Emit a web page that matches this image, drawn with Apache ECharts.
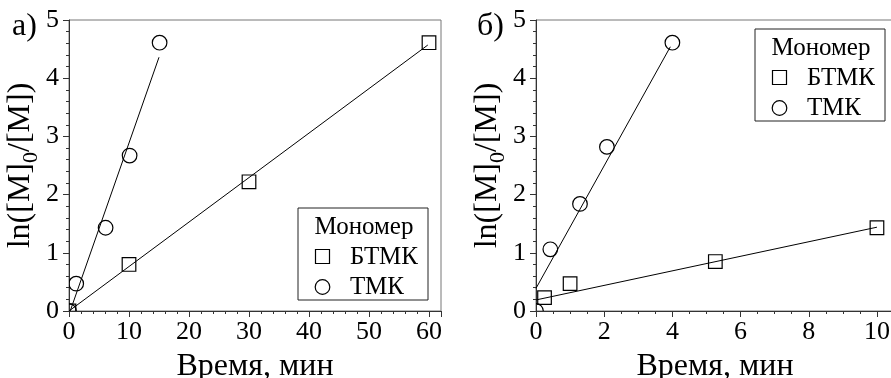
<!DOCTYPE html>
<html>
<head>
<meta charset="utf-8">
<script src="https://cdn.jsdelivr.net/npm/echarts@6/dist/echarts.min.js"></script>
<style>
  html, body { margin: 0; padding: 0; background: #fff; }
  #chart { width: 891px; height: 378px; }
</style>
</head>
<body>
<div id="chart"></div>
<script>
// Panel а): time in minutes, ln([M]0/[M])
const timeA_BTMK = [0, 10, 30, 60];
const lnA_BTMK   = [0, 0.80, 2.22, 4.61];
const timeA_TMK  = [0, 1.2, 6.1, 10.1, 15.1];
const lnA_TMK    = [0, 0.47, 1.43, 2.67, 4.61];
// Linear fits, panel а) (end points)
const fitA_BTMK = [[0, 0], [59.8, 4.57]];
const fitA_TMK  = [[0.2, 0], [15, 4.36]];

// Panel б)
const timeB_BTMK = [0.25, 1.0, 5.26, 10.0];
const lnB_BTMK   = [0.23, 0.47, 0.85, 1.43];
const timeB_TMK  = [0, 0.42, 1.29, 2.08, 4.0];
const lnB_TMK    = [0, 1.06, 1.84, 2.82, 4.61];
const fitB_BTMK = [[0, 0.19], [10, 1.44]];
const fitB_TMK  = [[0, 0.39], [3.94, 4.54]];

// Axis tick values
const xTicksA = [0, 10, 20, 30, 40, 50, 60];
const xTicksB = [0, 2, 4, 6, 8, 10];
const yTicks  = [0, 1, 2, 3, 4, 5];

const seriesNames = ['БТМК', 'ТМК'];
const legendTitle = 'Мономер';
const xTitle = 'Время, мин';
const panelLabels = ['а)', 'б)'];

const FONT = 'Liberation Serif';
const AXIS_COLOR = '#333';

const zip = (xs, ys) => xs.map((x, i) => [x, ys[i]]);

function markerSeries(name, gridIdx, xs, ys, shape) {
  return {
    type: 'custom',
    name: name,
    xAxisIndex: gridIdx,
    yAxisIndex: gridIdx,
    clip: true,
    z: 5,
    data: zip(xs, ys),
    renderItem: function (params, api) {
      const p = api.coord([api.value(0), api.value(1)]);
      const style = { fill: 'none', stroke: '#000', lineWidth: 1.2 };
      if (shape === 'circle') {
        return { type: 'circle', shape: { cx: p[0], cy: p[1], r: 7.3 }, style: style };
      }
      return { type: 'rect', shape: { x: p[0] - 6.8, y: p[1] - 6.8, width: 13.6, height: 13.6 }, style: style };
    }
  };
}

function fitSeries(gridIdx, pts) {
  return {
    type: 'line',
    xAxisIndex: gridIdx,
    yAxisIndex: gridIdx,
    data: pts,
    showSymbol: false,
    symbol: 'none',
    clip: true,
    silent: true,
    lineStyle: { color: '#000', width: 1 },
    z: 4
  };
}

function xAxis(gridIdx, max, interval, minorSplit, ticks) {
  return {
    type: 'value',
    gridIndex: gridIdx,
    min: 0,
    max: max,
    interval: interval,
    name: xTitle,
    nameLocation: 'middle',
    nameGap: 40,
    nameTextStyle: { fontFamily: FONT, fontSize: 32, color: '#000' },
    axisLine: { show: true, lineStyle: { color: AXIS_COLOR, width: 1 } },
    axisTick: { show: true, length: 6, lineStyle: { color: AXIS_COLOR } },
    minorTick: { show: true, splitNumber: minorSplit, length: 3, lineStyle: { color: AXIS_COLOR } },
    splitLine: { show: false },
    axisLabel: {
      fontFamily: FONT, fontSize: 26, color: '#000', margin: 8,
      showMaxLabel: false,
      formatter: v => (ticks.indexOf(v) >= 0 ? String(v) : '')
    }
  };
}

function yAxis(gridIdx) {
  return {
    type: 'value',
    gridIndex: gridIdx,
    min: 0,
    max: 5,
    interval: 1,
    name: 'ln([M]{sub|0}/[M])',
    nameLocation: 'middle',
    nameRotate: 90,
    nameGap: 23,
    nameTextStyle: {
      fontFamily: FONT, fontSize: 32, color: '#000',
      rich: { sub: { fontFamily: FONT, fontSize: 22, color: '#000', verticalAlign: 'bottom', lineHeight: 44 } }
    },
    axisLine: { show: true, lineStyle: { color: AXIS_COLOR, width: 1 } },
    axisTick: { show: true, length: 6, lineStyle: { color: AXIS_COLOR } },
    minorTick: { show: true, splitNumber: 5, length: 3, lineStyle: { color: AXIS_COLOR } },
    splitLine: { show: false },
    axisLabel: {
      fontFamily: FONT, fontSize: 26, color: '#000', margin: 10,
      formatter: v => (yTicks.indexOf(v) >= 0 ? String(v) : '')
    }
  };
}

// Legend box drawn as a graphic group (frame, title, two entries)
function legendBox(x, y) {
  const w = 130, h = 92;
  const font = '25px "' + FONT + '"';
  return {
    type: 'group',
    x: x, y: y,
    children: [
      { type: 'rect', shape: { x: 0, y: 0, width: w, height: h }, style: { fill: '#fff', stroke: '#222', lineWidth: 1 } },
      { type: 'text', x: w / 2 + 1, y: 19, style: { text: legendTitle, font: font, fill: '#000', textAlign: 'center', textVerticalAlign: 'middle' } },
      { type: 'rect', shape: { x: 17.5, y: 41.5, width: 14, height: 14 }, style: { fill: 'none', stroke: '#000', lineWidth: 1.2 } },
      { type: 'text', x: 52, y: 49, style: { text: seriesNames[0], font: font, fill: '#000', textAlign: 'left', textVerticalAlign: 'middle' } },
      { type: 'circle', shape: { cx: 24.5, cy: 79, r: 7.3 }, style: { fill: 'none', stroke: '#000', lineWidth: 1.2 } },
      { type: 'text', x: 52, y: 79, style: { text: seriesNames[1], font: font, fill: '#000', textAlign: 'left', textVerticalAlign: 'middle' } }
    ]
  };
}

const chart = echarts.init(document.getElementById('chart'), null, { renderer: 'canvas' });

const gridBase = { top: 20, height: 291, show: true, borderColor: '#777', borderWidth: 1, containLabel: false, outerBoundsMode: 'none' };

chart.setOption({
  animation: false,
  backgroundColor: '#fff',
  textStyle: { fontFamily: FONT },
  grid: [
    Object.assign({ left: 69, width: 372 }, gridBase),
    Object.assign({ left: 536, width: 358 }, gridBase)
  ],
  xAxis: [
    xAxis(0, 62, 10, 5, xTicksA),
    xAxis(1, 10.5, 2, 4, xTicksB)
  ],
  yAxis: [yAxis(0), yAxis(1)],
  series: [
    fitSeries(0, fitA_BTMK),
    fitSeries(0, fitA_TMK),
    markerSeries(seriesNames[0], 0, timeA_BTMK, lnA_BTMK, 'rect'),
    markerSeries(seriesNames[1], 0, timeA_TMK, lnA_TMK, 'circle'),
    fitSeries(1, fitB_BTMK),
    fitSeries(1, fitB_TMK),
    markerSeries(seriesNames[0], 1, timeB_BTMK, lnB_BTMK, 'rect'),
    markerSeries(seriesNames[1], 1, timeB_TMK, lnB_TMK, 'circle')
  ],
  graphic: [
    legendBox(298, 208),
    legendBox(755, 29),
    { type: 'text', x: 12, y: 27, style: { text: panelLabels[0], font: '32px "' + FONT + '"', fill: '#000', textAlign: 'left', textVerticalAlign: 'middle' } },
    { type: 'text', x: 477, y: 27, style: { text: panelLabels[1], font: '32px "' + FONT + '"', fill: '#000', textAlign: 'left', textVerticalAlign: 'middle' } }
  ]
});
</script>
</body>
</html>
